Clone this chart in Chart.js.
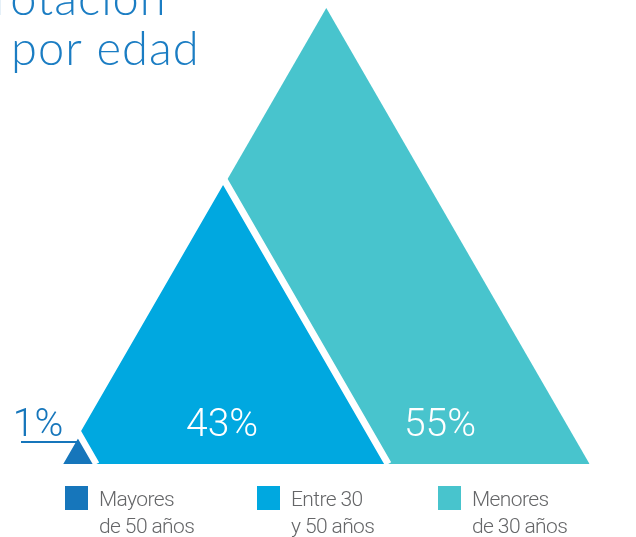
<!DOCTYPE html>
<html>
<head>
<meta charset="utf-8">
<script src="https://cdn.jsdelivr.net/npm/chart.js@4.4.1/dist/chart.umd.min.js"></script>
<style>
  html, body { margin: 0; padding: 0; background: #fff; }
  #wrap { position: relative; width: 636px; height: 537px; }
</style>
</head>
<body>
<div id="wrap"><canvas id="chart"></canvas></div>
<script>
// legend text, two lines per group
const categories = [['Mayores', 'de 50 años'], ['Entre 30', 'y 50 años'], ['Menores', 'de 30 años']];
// share of each group, in %
const shares = [1, 43, 55];
// triangle heights (chart units, 0-100) and where each base starts on the x axis
const peaks = [7.0, 62.7, 100];
const baseLeft = [13.05, 12.72, 13.82];
const colors = ['#1676bb', '#00a8e0', '#48c4cd'];
const titleLines = ['rotación', 'por edad'];

const HALF = 1 / Math.sqrt(3);   // equilateral triangle: half base per unit of height
const PX_PER_UNIT = 4.56;

function triangle(i) {
  const x0 = baseLeft[i];
  const h = peaks[i];
  return [
    { x: x0, y: 0 },
    { x: x0 + h * HALF, y: h },
    { x: x0 + 2 * h * HALF, y: 0 }
  ];
}

const borderWidths = [6.5, 7, 0];

const datasets = categories.map((c, i) => ({
  label: c.join(' '),
  data: triangle(i),
  backgroundColor: colors[i],
  borderColor: '#ffffff',
  borderWidth: borderWidths[i],
  fill: 'origin',
  pointRadius: 0,
  tension: 0
}));

const extras = {
  id: 'extras',
  afterDraw(chart) {
    const ctx = chart.ctx;
    const xs = chart.scales.x;
    ctx.save();

    // title (cut off at the top like the source)
    ctx.fillStyle = '#1b7dc3';
    ctx.font = '300 47px Lato';
    ctx.letterSpacing = '1px';
    ctx.textBaseline = 'alphabetic';
    ctx.textAlign = 'left';
    ctx.fillText(titleLines[0], -6, 15);
    ctx.fillText(titleLines[1], 11, 65);
    ctx.letterSpacing = '0px';

    // percentage labels
    ctx.font = '300 39px Roboto';
    ctx.textAlign = 'center';
    ctx.fillStyle = colors[0];
    ctx.fillText(shares[0] + '%', 38, 436);
    ctx.fillStyle = '#ffffff';
    const blueApex = xs.getPixelForValue(baseLeft[1] + peaks[1] * HALF);
    ctx.fillText(shares[1] + '%', blueApex - 1, 436);
    ctx.fillText(shares[2] + '%', 440, 436);

    // leader line for the small slice
    ctx.strokeStyle = colors[0];
    ctx.lineWidth = 2;
    ctx.beginPath();
    ctx.moveTo(21, 442);
    ctx.lineTo(78, 442);
    ctx.stroke();

    // legend
    const boxX = [65, 257, 438];
    ctx.font = '300 21px Roboto';
    ctx.letterSpacing = '-0.6px';
    ctx.textAlign = 'left';
    categories.forEach((lines, i) => {
      ctx.fillStyle = colors[i];
      ctx.fillRect(boxX[i], 486, 23, 24);
      ctx.fillStyle = '#656668';
      ctx.fillText(lines[0], boxX[i] + 34, 506);
      ctx.fillText(lines[1], boxX[i] + 34, 533);
    });
    ctx.restore();
  }
};

new Chart(document.getElementById('chart'), {
  type: 'line',
  data: { datasets: datasets },
  plugins: [extras],
  options: {
    responsive: true,
    maintainAspectRatio: false,
    animation: false,
    layout: { padding: { top: 8, bottom: 73, left: 0, right: 0 } },
    scales: {
      x: { type: 'linear', min: 0, max: 636 / PX_PER_UNIT, display: false },
      y: { min: 0, max: 100, display: false }
    },
    plugins: {
      legend: { display: false },
      tooltip: { enabled: false }
    }
  }
});
</script>
</body>
</html>
